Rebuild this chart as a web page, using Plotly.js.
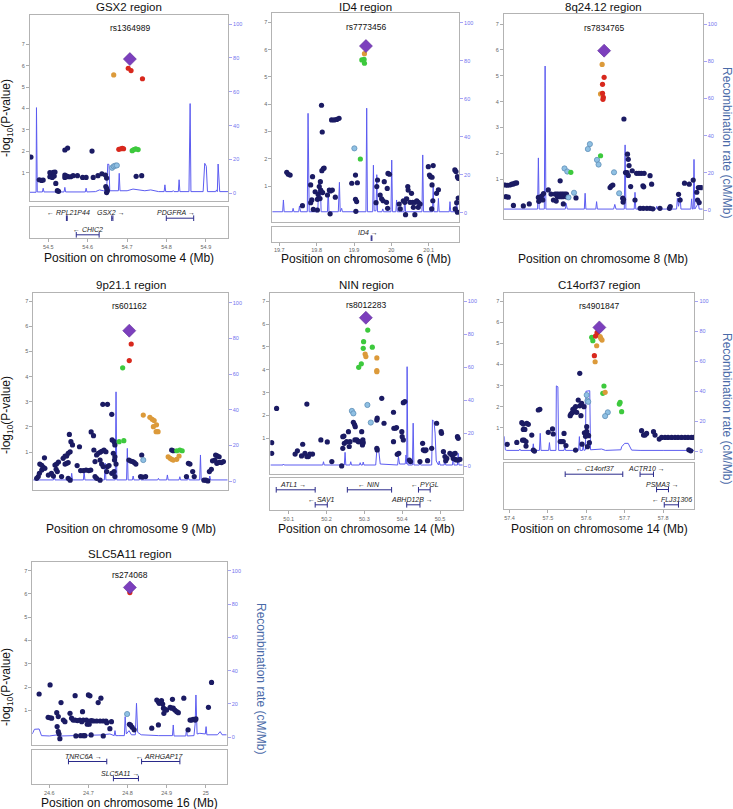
<!DOCTYPE html>
<html><head><meta charset="utf-8">
<script src="https://cdn.plot.ly/plotly-3.0.1.min.js"></script>
<style>html,body{margin:0;padding:0;background:#fff}#chart{width:733px;height:809px}</style>
</head><body><div id="chart"></div>
<script>
// ================= DATA =================
const regionTitles = ['GSX2 region','ID4 region','8q24.12 region','9p21.1 region','NIN region','C14orf37 region','SLC5A11 region'];
const chromosomes = [4, 6, 8, 9, 14, 14, 16];
const indexSnps = ['rs1364989','rs7773456','rs7834765','rs601162','rs8012283','rs4901847','rs274068'];
const xTickVals = [
  [54.5,54.6,54.7,54.8,54.9],[19.7,19.8,19.9,20.0,20.1],[122.1,122.2,122.3,122.4,122.5],
  [29.4,29.5,29.6,29.7,29.8],[50.1,50.2,50.3,50.4,50.5],[57.4,57.5,57.6,57.7,57.8],[24.6,24.7,24.8,24.9,25.0]];
const xTickText = [
  ['54.5','54.6','54.7','54.8','54.9'],['19.7','19.8','19.9','20','20.1'],['122.1','122.2','122.3','122.4','122.5'],
  ['29.4','29.5','29.6','29.7','29.8'],['50.1','50.2','50.3','50.4','50.5'],['57.4','57.5','57.6','57.7','57.8'],['24.6','24.7','24.8','24.9','25']];
const pTickVals = [1,2,3,4,5,6,7];
const rateTickVals = [0,20,40,60,80,100];
// LD classes: 0 r2<0.2, 1 0.2-0.4, 2 0.4-0.6, 3 0.6-0.8, 4 0.8-1, 5 index SNP
const ldColors = ['#1b1b63','#8fc0e3','#3dc93d','#dc9a3a','#d8281d','#7c3fbd'];

// [position Mb, -log10 P, LD class]
const p1_snps = [[54.456,1.73,0],[54.477,0.67,0],[54.483,0.64,0],[54.487,0.66,0],[54.504,1.00,0],[54.508,0.97,0],[54.513,1.02,0],[54.517,1.03,0],[54.504,0.81,0],[54.510,0.78,0],[54.515,0.84,0],[54.519,0.50,0],[54.523,0.16,0],[54.526,0.13,0],[54.542,2.06,0],[54.549,2.15,0],[54.542,0.89,0],[54.547,0.84,0],[54.551,0.81,0],[54.557,0.81,0],[54.542,0.78,0],[54.563,0.86,0],[54.574,0.86,0],[54.587,0.78,0],[54.596,0.78,0],[54.611,2.01,0],[54.614,0.78,0],[54.626,0.86,0],[54.636,0.95,0],[54.645,0.89,0],[54.648,0.75,0],[54.646,0.35,0],[54.648,0.27,0],[54.650,0.16,0],[54.648,0.07,0],[54.723,0.83,0],[54.737,0.86,0],
 [54.662,1.23,1],[54.666,1.30,1],[54.670,1.33,1],[54.674,1.34,1],
 [54.713,2.03,2],[54.717,2.08,2],[54.722,2.11,2],[54.728,2.08,2],
 [54.666,5.57,3],
 [54.703,5.88,4],[54.710,5.77,4],[54.739,5.39,4],[54.679,2.09,4],[54.684,2.12,4],[54.688,2.14,4],[54.691,2.12,4],
 [54.707,6.31,5]];
const p2_snps = [[19.720,1.50,0],[19.724,1.43,0],[19.729,1.40,0],[19.762,0.28,0],[19.784,1.04,0],[19.789,1.34,0],[19.787,0.49,0],[19.784,0.39,0],[19.796,0.79,0],[19.791,0.14,0],[19.802,0.12,0],[19.804,0.69,0],[19.807,0.98,0],[19.810,1.16,0],[19.811,0.85,0],[19.812,0.79,0],[19.816,0.76,0],[19.814,1.56,0],[19.818,1.64,0],[19.820,1.66,0],[19.813,3.96,0],[19.815,2.98,0],[19.802,0.51,0],[19.809,0.54,0],
 [19.829,0.67,0],[19.834,0.85,0],[19.837,0.82,0],[19.842,0.85,0],[19.836,-0.02,0],[19.850,0.59,0],[19.840,3.42,0],[19.847,3.42,0],[19.854,3.44,0],[19.860,3.48,0],
 [19.894,1.10,0],[19.904,1.40,0],[19.909,1.12,0],[19.904,0.51,0],[19.907,0.43,0],[19.905,0.07,0],
 [19.963,1.22,0],[19.961,0.98,0],[19.959,0.39,0],[19.970,0.67,0],[19.974,0.53,0],[19.978,0.46,0],[19.981,1.16,0],[19.987,0.40,0],[19.989,0.91,0],[19.991,1.46,0],[19.995,1.43,0],[19.990,0.18,0],
 [20.021,0.34,0],[20.024,0.16,0],[20.032,0.46,0],[20.036,0.40,0],[20.041,0.53,0],[20.044,0.98,0],[20.045,0.85,0],[20.050,0.40,0],[20.054,0.73,0],[20.057,0.40,0],[20.059,0.22,0],[20.063,0.40,0],[20.068,0.46,0],[20.072,0.40,0],[20.072,0.22,0],[20.077,0.34,0],[20.038,-0.05,0],[20.063,-0.05,0],
 [20.099,1.71,0],[20.102,1.40,0],[20.105,1.34,0],[20.109,1.32,0],[20.112,1.75,0],[20.109,1.04,0],[20.111,0.46,0],[20.108,0.16,0],[20.121,0.73,0],[20.126,0.86,0],
 [20.170,1.59,0],[20.173,1.53,0],[20.177,1.34,0],[20.179,1.28,0],[20.175,0.39,0],[20.179,0.56,0],[20.171,0.16,0],[20.177,0.04,0],
 [19.901,2.38,1],
 [19.921,5.62,2],[19.927,5.64,2],[19.928,5.50,2],[19.917,1.99,2],
 [19.928,5.85,3],
 [19.932,6.13,5]];
const p3_snps = [[122.396,3.33,0],[122.096,0.78,0],[122.102,0.77,0],[122.108,0.78,0],[122.113,0.81,0],[122.117,0.82,0],[122.121,0.85,0],[122.125,0.86,0],[122.098,0.33,0],[122.104,0.31,0],[122.117,-0.01,0],[122.142,-0.03,0],[122.157,0.05,0],[122.180,0.30,0],[122.184,0.25,0],[122.188,0.35,0],[122.193,0.45,0],[122.191,0.20,0],[122.181,0.15,0],[122.205,0.59,0],[122.212,0.43,0],[122.218,0.20,0],[122.225,0.16,0],[122.222,0.43,0],[122.226,0.43,0],[122.230,0.43,0],[122.235,0.43,0],[122.239,0.43,0],[122.243,0.43,0],[122.247,0.43,0],[122.251,0.43,0],[122.228,0.33,0],[122.235,0.33,0],[122.241,0.33,0],[122.250,0.33,0],[122.235,0.94,0],[122.243,0.05,0],[122.275,0.28,0],
 [122.361,0.68,0],[122.364,0.74,0],[122.368,0.78,0],[122.393,0.27,0],[122.395,0.22,0],[122.394,0.12,0],[122.400,1.26,0],[122.404,1.26,0],[122.407,1.15,0],[122.405,1.97,0],[122.407,1.77,0],[122.409,1.53,0],[122.417,1.33,0],[122.413,0.72,0],[122.428,1.23,0],[122.434,1.23,0],[122.440,1.23,0],[122.447,1.23,0],[122.444,0.75,0],[122.446,0.71,0],[122.462,1.14,0],[122.466,0.81,0],[122.437,-0.12,0],[122.445,-0.12,0],[122.454,-0.12,0],[122.462,-0.12,0],[122.469,-0.14,0],[122.424,0.20,0],[122.487,-0.12,0],[122.511,-0.12,0],[122.513,-0.05,0],[122.534,0.42,0],[122.538,0.20,0],[122.549,0.85,0],[122.561,0.81,0],[122.571,0.97,0],[122.584,0.68,0],[122.588,0.68,0],[122.592,0.68,0],[122.582,0.20,0],[122.586,0.10,0],[122.580,0.50,0],
 [122.310,2.36,1],[122.305,2.17,1],[122.328,1.75,1],[122.332,1.57,1],[122.371,1.27,1],[122.246,1.42,1],[122.253,1.30,1],[122.256,0.30,1],[122.270,0.48,1],[122.384,0.46,1],
 [122.337,1.91,2],[122.262,1.27,2],
 [122.341,5.44,3],[122.337,4.30,3],
 [122.346,4.94,4],[122.342,4.67,4],[122.342,4.32,4],[122.344,4.17,4],[122.343,4.09,4],
 [122.346,5.97,5]];
const p4_snps = [[29.383,-0.05,0],[29.387,0.02,0],[29.390,0.15,0],[29.396,0.28,0],[29.400,0.39,0],[29.404,0.35,0],[29.391,0.52,0],[29.396,0.47,0],[29.403,0.77,0],[29.413,0.08,0],[29.421,0.15,0],[29.426,0.04,0],[29.430,0.48,0],[29.434,0.52,0],[29.439,0.60,0],[29.433,0.31,0],[29.436,0.22,0],[29.451,0.75,0],[29.456,0.84,0],[29.460,0.84,0],[29.464,0.95,0],[29.469,1.01,0],[29.467,1.70,0],[29.471,1.41,0],[29.475,1.28,0],[29.456,0.52,0],[29.460,0.55,0],[29.464,0.58,0],[29.447,0.02,0],[29.464,-0.05,0],[29.469,-0.12,0],
 [29.487,0.46,0],[29.493,1.21,0],[29.496,0.26,0],[29.503,0.26,0],[29.510,0.28,0],[29.517,0.26,0],[29.522,0.28,0],[29.523,1.80,0],[29.529,1.65,0],[29.530,1.08,0],[29.533,0.62,0],[29.537,0.88,0],[29.541,0.95,0],[29.546,0.99,0],[29.550,1.03,0],[29.556,1.08,0],[29.561,1.01,0],[29.553,2.90,0],[29.565,2.90,0],[29.546,0.68,0],[29.550,0.52,0],[29.554,0.42,0],[29.563,0.22,0],[29.565,0.42,0],[29.569,0.46,0],[29.533,0.02,0],[29.537,-0.05,0],[29.546,-0.12,0],
 [29.576,2.50,0],[29.577,1.48,0],[29.582,1.41,0],[29.584,1.28,0],[29.580,0.95,0],[29.584,0.81,0],[29.583,0.68,0],[29.587,0.52,0],[29.582,0.22,0],[29.576,0.15,0],[29.584,0.02,0],
 [29.620,0.68,0],[29.625,0.64,0],[29.630,0.62,0],[29.634,0.58,0],[29.638,0.52,0],[29.653,0.88,0],[29.650,0.02,0],[29.655,0.00,0],[29.663,0.02,0],[29.730,1.08,0],[29.734,1.05,0],
 [29.773,0.55,0],[29.777,0.52,0],[29.784,0.22,0],[29.788,0.02,0],[29.768,0.02,0],[29.813,-0.12,0],[29.818,-0.12,0],[29.823,-0.15,0],[29.827,0.22,0],[29.832,0.31,0],[29.835,0.65,0],[29.841,0.68,0],[29.846,0.55,0],[29.850,0.58,0],[29.854,0.59,0],[29.858,0.58,0],[29.863,0.62,0],[29.843,0.88,0],[29.847,0.85,0],[29.852,0.81,0],
 [29.657,0.68,1],
 [29.604,4.35,2],[29.595,1.41,2],[29.607,1.45,2],[29.743,1.05,2],[29.751,1.08,2],[29.757,1.05,2],
 [29.657,2.47,3],[29.674,2.38,3],[29.680,2.30,3],[29.685,2.25,3],[29.691,2.08,3],[29.683,2.01,3],[29.690,1.81,3],[29.695,1.81,3],[29.721,0.81,3],[29.726,0.75,3],[29.730,0.71,3],[29.734,0.68,3],[29.743,0.71,3],[29.749,0.84,3],
 [29.626,5.30,4],[29.621,4.64,4],
 [29.621,5.83,5]];
const p5_snps = [[50.055,0.81,0],[50.055,0.34,0],[50.068,2.31,0],[50.117,0.31,0],[50.123,0.45,0],[50.134,0.23,0],[50.137,0.74,0],[50.143,0.34,0],[50.148,0.20,0],[50.152,0.20,0],[50.156,0.31,0],[50.163,0.31,0],[50.148,2.50,0],[50.185,0.93,0],[50.202,0.84,0],[50.214,-0.02,0],[50.240,-0.21,0],
 [50.243,1.07,0],[50.246,1.10,0],[50.243,0.56,0],[50.247,0.78,0],[50.253,0.85,0],[50.258,1.29,0],[50.262,0.85,0],[50.260,0.64,0],[50.271,1.70,0],[50.274,1.60,0],[50.276,1.51,0],[50.275,0.93,0],[50.280,0.93,0],[50.284,0.85,0],[50.287,0.85,0],[50.293,1.29,0],[50.296,0.93,0],[50.297,0.81,0],[50.295,0.71,0],
 [50.333,0.56,0],[50.334,0.49,0],[50.334,1.88,0],[50.333,1.80,0],[50.346,2.75,0],[50.352,1.66,0],[50.377,2.14,0],[50.378,1.44,0],[50.382,1.44,0],[50.385,1.47,0],[50.377,0.85,0],[50.387,0.30,0],[50.391,0.34,0],[50.399,1.29,0],[50.400,1.07,0],[50.403,0.93,0],[50.403,2.56,0],[50.407,2.61,0],[50.419,0.05,0],[50.422,-0.02,0],
 [50.447,-0.02,0],[50.454,0.78,0],[50.456,0.49,0],[50.460,0.46,0],[50.463,0.49,0],[50.467,0.02,0],[50.478,0.56,0],[50.491,1.66,0],[50.503,1.29,0],[50.504,1.22,0],[50.509,0.42,0],[50.513,0.20,0],[50.518,0.12,0],[50.515,0.02,0],[50.526,0.34,0],[50.531,0.27,0],[50.535,0.31,0],[50.540,0.34,0],[50.535,0.12,0],[50.540,0.08,0],[50.544,0.05,0],[50.548,0.05,0],[50.553,0.08,0],[50.546,1.07,0],[50.548,1.00,0],
 [50.267,2.20,1],[50.271,2.09,1],[50.308,2.46,1],[50.317,1.69,1],
 [50.309,5.74,2],[50.298,5.23,2],[50.297,4.94,2],[50.321,4.99,2],[50.292,4.26,2],[50.285,4.11,2],
 [50.302,4.69,3],[50.304,4.58,3],[50.333,4.52,3],[50.333,3.96,3],[50.333,3.92,3],
 [50.304,6.28,5]];
const p6_snps = [[57.394,0.21,0],[57.419,0.30,0],[57.432,1.24,0],[57.436,1.17,0],[57.445,1.21,0],[57.449,1.16,0],[57.436,0.92,0],[57.440,0.92,0],[57.434,0.41,0],[57.438,0.41,0],[57.443,0.34,0],[57.458,0.65,0],[57.443,0.13,0],[57.462,-0.06,0],[57.465,-0.11,0],[57.475,1.84,0],[57.479,1.87,0],[57.501,0.78,0],[57.512,0.94,0],[57.514,0.70,0],[57.532,0.34,0],[57.536,0.34,0],[57.540,0.34,0],[57.542,0.73,0],[57.547,0.15,0],
 [57.558,1.57,0],[57.560,1.65,0],[57.563,1.71,0],[57.565,1.87,0],[57.569,1.92,0],[57.572,2.00,0],[57.569,1.76,0],[57.575,1.73,0],[57.572,-0.06,0],[57.579,2.31,0],[57.583,2.04,0],[57.588,2.16,0],[57.594,2.00,0],[57.583,3.58,0],[57.586,1.57,0],[57.589,0.22,0],[57.595,0.76,0],[57.599,0.73,0],[57.603,0.67,0],[57.606,0.62,0],[57.598,0.59,0],[57.601,0.83,0],[57.601,1.05,0],[57.608,0.29,0],[57.603,0.10,0],
 [57.744,0.86,0],[57.749,0.65,0],[57.753,0.65,0],[57.757,0.73,0],[57.775,0.81,0],[57.779,0.65,0],[57.790,0.46,0],[57.796,0.54,0],[57.805,0.54,0],[57.813,0.54,0],[57.822,0.54,0],[57.831,0.54,0],[57.839,0.54,0],[57.848,0.54,0],[57.857,0.54,0],[57.865,0.54,0],[57.874,0.54,0],[57.880,0.54,0],[57.867,-0.05,0],[57.872,-0.10,0],
 [57.601,2.55,1],[57.603,2.28,1],[57.605,2.23,1],[57.656,1.73,1],[57.649,1.55,1],
 [57.614,5.29,2],[57.617,5.13,2],[57.646,2.98,2],[57.643,2.63,2],[57.686,2.12,2],[57.688,2.20,2],[57.692,1.76,2],
 [57.636,5.32,3],[57.638,5.24,3],[57.641,5.16,3],[57.627,4.89,3],[57.623,4.13,3],[57.649,2.68,3],
 [57.628,5.51,4],[57.624,5.35,4],[57.621,4.42,4],
 [57.634,5.76,5]];
const p7_snps = [[24.574,1.70,0],[24.602,2.09,0],[24.597,0.70,0],[24.602,0.68,0],[24.606,0.66,0],[24.619,0.90,0],[24.623,0.73,0],[24.620,0.30,0],[24.623,0.08,0],[24.625,-0.02,0],[24.627,-0.22,0],[24.630,1.33,0],[24.636,0.58,0],[24.640,0.51,0],[24.653,0.87,0],[24.657,0.66,0],[24.661,0.58,0],[24.666,0.58,0],[24.672,0.56,0],[24.666,1.63,0],[24.668,-0.10,0],
 [24.678,0.58,0],[24.683,0.51,0],[24.685,0.94,0],[24.687,0.58,0],[24.680,-0.09,0],[24.687,-0.09,0],[24.691,-0.09,0],[24.700,1.66,0],[24.704,1.62,0],[24.695,0.58,0],[24.700,0.51,0],[24.704,0.54,0],[24.708,0.56,0],[24.713,0.54,0],[24.721,0.54,0],[24.730,0.54,0],[24.738,0.54,0],[24.745,0.54,0],[24.697,0.40,0],[24.702,0.40,0],[24.707,-0.06,0],[24.725,1.33,0],[24.732,1.52,0],[24.738,-0.10,0],[24.747,0.47,0],[24.755,0.21,0],[24.759,0.51,0],
 [24.805,0.40,0],[24.808,0.36,0],[24.812,0.27,0],[24.817,0.16,0],[24.862,0.23,0],[24.875,1.44,0],[24.879,1.37,0],[24.881,1.30,0],[24.887,1.42,0],[24.890,1.27,0],[24.879,0.37,0],[24.892,1.09,0],[24.896,1.04,0],[24.900,1.01,0],[24.893,0.87,0],[24.909,1.13,0],[24.913,1.09,0],[24.917,1.09,0],[24.921,1.01,0],[24.926,0.94,0],[24.930,0.90,0],[24.915,1.47,0],[24.944,1.52,0],[24.955,0.16,0],[24.960,0.58,0],[24.964,0.58,0],[24.968,0.61,0],[24.973,0.58,0],[24.975,0.63,0],[25.007,1.13,0],[25.015,2.20,0],
 [24.799,0.84,1],
 [24.806,6.06,4],
 [24.806,6.28,5]];

// recombination rate [position Mb, cM/Mb]
const p1_recomb = [[54.453,0.6],[54.469,0.6],[54.470,50.6],[54.472,0.8],[54.485,0.8],[54.487,3],[54.489,0.8],[54.540,0.8],[54.542,3.5],[54.544,0.8],[54.594,0.8],[54.596,3],[54.598,0.8],[54.620,1],[54.630,2],[54.640,1.5],[54.648,2],[54.651,17.3],[54.654,17],[54.656,1.5],[54.678,1.5],[54.680,11.8],[54.682,1.5],[54.700,1.5],[54.715,2.5],[54.733,2],[54.745,1.5],[54.760,2],[54.780,1],[54.794,1],[54.796,5],[54.798,1],[54.815,1],[54.817,1.6],[54.819,1],[54.830,1],[54.832,8],[54.834,1],[54.857,1],[54.860,53],[54.862,1],[54.893,1],[54.897,17.7],[54.901,16],[54.904,1],[54.925,1],[54.927,2],[54.929,1],[54.931,17.3],[54.935,1],[54.956,1]];
const p2_recomb = [[19.681,0.5],[19.709,0.5],[19.711,6.7],[19.713,0.5],[19.735,0.5],[19.737,2.3],[19.739,0.5],[19.752,0.5],[19.754,3.5],[19.757,0.5],[19.775,0.5],[19.777,52.3],[19.780,0.5],[19.803,0.5],[19.806,17],[19.810,15],[19.812,0.5],[19.829,0.5],[19.831,13],[19.833,0.5],[19.858,0.5],[19.861,16],[19.863,0.5],[19.867,2.3],[19.869,0.5],[19.932,0.5],[19.934,55],[19.936,0.5],[19.950,0.5],[19.952,25],[19.954,1],[19.959,1],[19.961,20],[19.963,0.5],[19.975,0.5],[19.977,2],[19.979,0.5],[19.999,0.5],[20.001,27.7],[20.003,0.5],[20.012,0.5],[20.014,6.7],[20.016,0.5],[20.034,0.5],[20.036,8.4],[20.038,0.5],[20.082,0.5],[20.084,30.4],[20.086,0.5],[20.110,0.5],[20.112,13.7],[20.114,0.5],[20.124,0.5],[20.126,7.5],[20.128,0.5],[20.155,0.5],[20.157,5.8],[20.159,0.5],[20.173,0.5],[20.175,6.7],[20.177,0.5],[20.182,0.5]];
const p3_recomb = [[122.093,0.5],[122.178,0.5],[122.180,28],[122.182,0.5],[122.195,0.5],[122.197,77.4],[122.199,0.5],[122.248,0.5],[122.250,3.6],[122.253,0.5],[122.296,0.5],[122.298,9],[122.300,0.5],[122.325,0.5],[122.327,4.5],[122.329,0.5],[122.370,0.5],[122.373,3],[122.376,0.5],[122.397,0.5],[122.399,35],[122.401,0.5],[122.422,0.5],[122.424,9.5],[122.426,0.5],[122.477,0.5],[122.479,2],[122.481,0.5],[122.529,0.5],[122.531,6.3],[122.534,2],[122.538,7],[122.540,0.5],[122.565,0.5],[122.567,6],[122.569,0.5],[122.571,0.5],[122.573,27.2],[122.575,0.5],[122.584,3.6],[122.586,0.5],[122.595,0.5]];
const p4_recomb = [[29.374,0.6],[29.426,0.6],[29.428,3.4],[29.430,0.6],[29.471,0.6],[29.473,4.3],[29.475,0.6],[29.503,0.6],[29.505,5.2],[29.507,0.6],[29.533,0.6],[29.535,2.4],[29.537,0.6],[29.557,0.6],[29.559,10],[29.561,0.6],[29.585,0.6],[29.587,50],[29.589,0.6],[29.614,0.6],[29.616,18.3],[29.618,0.6],[29.629,0.6],[29.631,2.8],[29.633,0.6],[29.647,0.6],[29.649,2.4],[29.651,0.6],[29.694,0.6],[29.696,1.5],[29.698,0.6],[29.717,0.6],[29.719,3.4],[29.721,0.6],[29.749,0.6],[29.751,2.4],[29.753,0.6],[29.771,0.6],[29.773,2],[29.775,0.6],[29.802,0.6],[29.804,14.6],[29.806,0.6],[29.826,0.6],[29.828,2.8],[29.830,0.6],[29.874,0.6]];
const p5_recomb = [[50.052,0.6],[50.085,0.6],[50.086,1.2],[50.088,0.6],[50.190,0.6],[50.192,2.6],[50.194,0.6],[50.247,0.6],[50.249,8.3],[50.251,0.6],[50.262,0.6],[50.264,2.6],[50.266,0.6],[50.287,0.6],[50.289,2],[50.291,0.6],[50.295,0.6],[50.297,2.4],[50.299,0.6],[50.330,0.6],[50.333,9.7],[50.338,9.5],[50.342,1.2],[50.388,0.6],[50.390,5.7],[50.393,1.2],[50.408,1.2],[50.410,6.7],[50.412,1.2],[50.413,60.3],[50.415,0.6],[50.427,0.6],[50.429,26],[50.431,0.6],[50.445,0.6],[50.447,1.2],[50.449,0.6],[50.478,0.6],[50.480,28],[50.484,27],[50.487,20],[50.490,3],[50.496,0.6],[50.498,3],[50.500,0.6],[50.511,0.6],[50.513,8],[50.515,0.6],[50.533,0.6],[50.535,7.7],[50.537,0.6],[50.546,0.6],[50.548,7.7],[50.550,0.6],[50.560,0.6]];
const p6_recomb = [[57.3865,10],[57.389,1],[57.393,0.6],[57.425,0.6],[57.427,1.5],[57.429,0.6],[57.460,0.6],[57.462,5],[57.464,0.6],[57.478,0.6],[57.480,12],[57.482,0.6],[57.502,0.6],[57.504,5.8],[57.506,0.6],[57.521,0.6],[57.522,43.6],[57.526,43],[57.528,0.6],[57.542,0.6],[57.544,3],[57.546,0.6],[57.580,0.6],[57.582,9.8],[57.584,0.6],[57.590,0.6],[57.592,4],[57.594,0.6],[57.598,1],[57.599,40],[57.609,40.4],[57.611,1],[57.640,1.5],[57.650,0.6],[57.690,1],[57.692,3],[57.700,5.3],[57.709,5.3],[57.718,0.8],[57.740,0.6],[57.800,0.6],[57.881,0.6]];
const p7_recomb = [[24.5564,2],[24.562,4.8],[24.574,5],[24.580,1],[24.600,0.8],[24.619,1.4],[24.630,0.8],[24.670,1],[24.730,1.4],[24.755,2],[24.766,1],[24.768,4],[24.770,1],[24.776,1],[24.792,1],[24.794,12.4],[24.797,2],[24.804,4],[24.810,1.5],[24.820,1.5],[24.823,20.4],[24.826,3],[24.835,1.5],[24.880,1],[24.915,1],[24.917,7.4],[24.919,0.8],[24.949,0.8],[24.951,5],[24.953,0.8],[24.970,1],[24.973,8],[24.975,25.4],[24.978,2],[24.985,2.4],[24.999,2],[25.001,6.4],[25.003,1.5],[25.011,1.5],[25.030,1.5],[25.037,3.4],[25.042,1.5],[25.0536,1.5]];

// genes [name, start Mb, end Mb, row, strand, label position Mb]
const p1_genes = [['RPL21P44',54.546,54.548,1,-1,54.551],['GSX2',54.661,54.664,1,1,54.659],['PDGFRA',54.7995,54.869,1,1,54.823],['CHIC2',54.571,54.629,2,-1,54.600]];
const p2_genes = [['ID4',19.946,19.948,1,1,19.937]];
const p3_genes = [];
const p4_genes = [];
const p5_genes = [['ATL1',50.067,50.170,1,1,50.112],['NIN',50.255,50.372,1,-1,50.311],['PYGL',50.443,50.474,1,-1,50.460],['SAV1',50.170,50.202,2,-1,50.187],['ABHD12B',50.412,50.447,2,1,50.425]];
const p6_genes = [['C14orf37',57.545,57.695,1,-1,57.623],['ACTR10',57.740,57.775,1,1,57.757],['PSMA3',57.783,57.814,2,1,57.799],['FLJ31306',57.803,57.840,3,-1,57.822]];
const p7_genes = [['TNRC6A',24.649,24.747,1,1,24.687],['ARHGAP17',24.836,24.934,1,-1,24.883],['SLC5A11',24.764,24.828,2,1,24.781]];

const allSnps = [p1_snps,p2_snps,p3_snps,p4_snps,p5_snps,p6_snps,p7_snps];
const allRecomb = [p1_recomb,p2_recomb,p3_recomb,p4_recomb,p5_recomb,p6_recomb,p7_recomb];
const allGenes = [p1_genes,p2_genes,p3_genes,p4_genes,p5_genes,p6_genes,p7_genes];

// ================= LAYOUT GEOMETRY (pixels) =================
const W = 733, H = 809;
const geom = [
 {L:30,R:228,T:15,B:200.7,GT:206.7,GB:238.3,xv:54.5,xp:48.3,xk:394,y7:44.3,y1:172.7,r100:24,r0:193.3,titleY:7,xlabY:258.3,snpY:28.3,rowH:16.6},
 {L:272.3,R:459,T:13.3,B:222.3,GT:226.7,GB:241.7,xv:19.7,xp:279.3,xk:373.5,y7:22.3,y1:186,r100:22.7,r0:212.7,titleY:7,xlabY:259.3,snpY:26.7,rowH:16},
 {L:504,R:702.7,T:14,B:219.3,GT:223.3,GB:240.7,xv:122.1,xp:506.7,xk:396,y7:24,y1:179.3,r100:24,r0:210,titleY:7,xlabY:258.5,snpY:28.3,rowH:16},
 {L:33.3,R:227.7,T:292.7,B:490,GT:495,GB:510,xv:29.4,xp:43.3,xk:389,y7:301.3,y1:452,r100:302.7,r0:481,titleY:285,xlabY:528.5,snpY:306,rowH:16},
 {L:270.3,R:462.7,T:292.7,B:474.3,GT:478.3,GB:510,xv:50.1,xp:288.7,xk:378.3,y7:301.3,y1:438.3,r100:301.3,r0:466,titleY:285,xlabY:528.5,snpY:305,rowH:15},
 {L:504.3,R:694.3,T:293.3,B:459.3,GT:462.7,GB:509.3,xv:57.4,xp:509.5,xk:384,y7:301.3,y1:427.7,r100:301.3,r0:451.3,titleY:285,xlabY:528.5,snpY:305.7,rowH:15.3},
 {L:32.3,R:226.7,T:562.3,B:745,GT:750,GB:784,xv:24.6,xp:49.3,xk:391,y7:570.7,y1:710.3,r100:570.7,r0:737.3,titleY:554.3,xlabY:802.7,snpY:575,rowH:17}
];
const leftLabels = [{panel:0,y:118},{panel:3,y:415},{panel:6,y:687}];
const rightLabels = [{x:727,y:142},{x:727,y:408},{x:261,y:678}];

const FRAME = '#b3b3b3';
const FONT = 'Liberation Sans, Arial, Helvetica, sans-serif';
const id = n => (n === 1 ? '' : String(n));
const px2x = x => x / W, px2y = y => 1 - y / H;

const layout = {width:W, height:H, margin:{l:0,r:0,t:0,b:0}, showlegend:false,
  paper_bgcolor:'#ffffff', plot_bgcolor:'rgba(0,0,0,0)', font:{family:FONT}, annotations:[]};
const traces = [];

geom.forEach((g, i) => {
  const xm = 2*i+1, xg = 2*i+2, yr = 3*i+1, yl = 3*i+2, yg = 3*i+3;
  const xr = [g.xv + (g.L - g.xp)/g.xk, g.xv + (g.R - g.xp)/g.xk];
  const u = (g.y1 - g.y7)/6;
  const ylr = [1 - (g.B - g.y1)/u, 1 + (g.y1 - g.T)/u];
  const v = (g.r0 - g.r100)/100;
  const yrr = [-(g.B - g.r0)/v, (g.r0 - g.T)/v];
  const xd = [px2x(g.L), px2x(g.R)];
  const base = {showgrid:false, zeroline:false, fixedrange:true};
  layout['xaxis'+id(xm)] = Object.assign({}, base, {domain:xd, range:xr, anchor:'y'+id(yr),
    showline:true, mirror:true, linecolor:FRAME, linewidth:1, showticklabels:false, ticks:''});
  layout['yaxis'+id(yr)] = Object.assign({}, base, {domain:[px2y(g.B), px2y(g.T)], range:yrr, anchor:'x'+id(xm),
    side:'right', showline:true, linecolor:FRAME, linewidth:1, tickmode:'array', tickvals:rateTickVals,
    ticks:'outside', ticklen:3, tickwidth:0.8, tickcolor:'#8d8df2', tickfont:{size:5.5, color:'#7373ee', family:FONT}});
  layout['yaxis'+id(yl)] = Object.assign({}, base, {overlaying:'y'+id(yr), range:ylr, anchor:'x'+id(xm),
    side:'left', showline:true, linecolor:FRAME, linewidth:1, tickmode:'array', tickvals:pTickVals,
    ticks:'outside', ticklen:3, tickwidth:0.8, tickcolor:'#999', tickfont:{size:5.5, color:'#666', family:FONT}});
  layout['xaxis'+id(xg)] = Object.assign({}, base, {domain:xd, range:xr, anchor:'y'+id(yg),
    showline:true, mirror:true, linecolor:FRAME, linewidth:1, tickmode:'array', tickvals:xTickVals[i], ticktext:xTickText[i],
    ticks:'outside', ticklen:3, tickwidth:0.8, tickcolor:'#999', tickfont:{size:5.5, color:'#666', family:FONT}});
  layout['yaxis'+id(yg)] = Object.assign({}, base, {domain:[px2y(g.GB), px2y(g.GT)], range:[g.GB - g.GT, 0],
    anchor:'x'+id(xg), showline:true, mirror:true, linecolor:FRAME, linewidth:1, showticklabels:false, ticks:''});

  // recombination line (base axis, drawn under points)
  const rec = allRecomb[i];
  traces.push({type:'scatter', mode:'lines', x:rec.map(d=>d[0]), y:rec.map(d=>d[1]),
    xaxis:'x'+id(xm), yaxis:'y'+id(yr), line:{color:'#5c5cf0', width:1}, hoverinfo:'skip'});
  // SNPs by LD class
  const snps = allSnps[i];
  for (let c = 0; c <= 5; c++) {
    const s = snps.filter(d => d[2] === c);
    if (!s.length) continue;
    const mk = c === 5
      ? {symbol:'diamond', size:10, color:ldColors[5], line:{color:'#5e2c98', width:0.6}}
      : c === 1
        ? {symbol:'circle', size:5.2, color:ldColors[1], line:{color:'#5f8fb8', width:0.8}}
        : {symbol:'circle', size:5.2, color:ldColors[c], line:{width:0}};
    traces.push({type:'scatter', mode:'markers', x:s.map(d=>d[0]), y:s.map(d=>d[1]),
      xaxis:'x'+id(xm), yaxis:'y'+id(yl), marker:mk, hoverinfo:'skip'});
  }
  // genes
  allGenes[i].forEach(gn => {
    const [name, st, en, row, dir, lx] = gn;
    const labY = 6 + (row-1)*g.rowH, barY = labY + 5.5;
    traces.push({type:'scatter', mode:'lines+markers', x:[st, en], y:[barY, barY],
      xaxis:'x'+id(xg), yaxis:'y'+id(yg), line:{color:'#2a2a8a', width:1},
      marker:{symbol:'line-ns-open', size:4, line:{color:'#2a2a8a', width:1}}, hoverinfo:'skip'});
    layout.annotations.push({xref:'x'+id(xg), yref:'y'+id(yg), x:lx, y:labY, showarrow:false,
      text: dir > 0 ? '<i>'+name+'</i> \u2192' : '\u2190 <i>'+name+'</i>',
      font:{size:7, color:'#1a1a1a', family:FONT}, xanchor:'center', yanchor:'middle'});
  });
  // titles
  layout.annotations.push({xref:'paper', yref:'paper', x:px2x((g.L+g.R)/2), y:px2y(g.titleY), showarrow:false,
    text:regionTitles[i], font:{size:11.5, color:'#111', family:FONT}, xanchor:'center', yanchor:'middle'});
  layout.annotations.push({xref:'paper', yref:'paper', x:px2x((g.L+g.R)/2), y:px2y(g.xlabY), showarrow:false,
    text:'Position on chromosome '+chromosomes[i]+' (Mb)', font:{size:12, color:'#111', family:FONT}, xanchor:'center', yanchor:'middle'});
  const idx = snps.find(d => d[2] === 5);
  layout.annotations.push({xref:'x'+id(xm), yref:'paper', x:idx[0], y:px2y(g.snpY), showarrow:false,
    text:indexSnps[i], font:{size:8.5, color:'#111', family:FONT}, xanchor:'center', yanchor:'middle'});
});

leftLabels.forEach(l => {
  layout.annotations.push({xref:'paper', yref:'paper', x:px2x(7), y:px2y(l.y), showarrow:false, textangle:-90,
    text:'-log<sub>10</sub>(P-value)', font:{size:12, color:'#111', family:FONT}, xanchor:'center', yanchor:'middle'});
});
rightLabels.forEach(l => {
  layout.annotations.push({xref:'paper', yref:'paper', x:px2x(l.x), y:px2y(l.y), showarrow:false, textangle:90,
    text:'Recombination rate (cM/Mb)', font:{size:12, color:'#4a6aa8', family:FONT}, xanchor:'center', yanchor:'middle'});
});

Plotly.newPlot('chart', traces, layout, {displayModeBar:false, staticPlot:true});
</script>
</body></html>
